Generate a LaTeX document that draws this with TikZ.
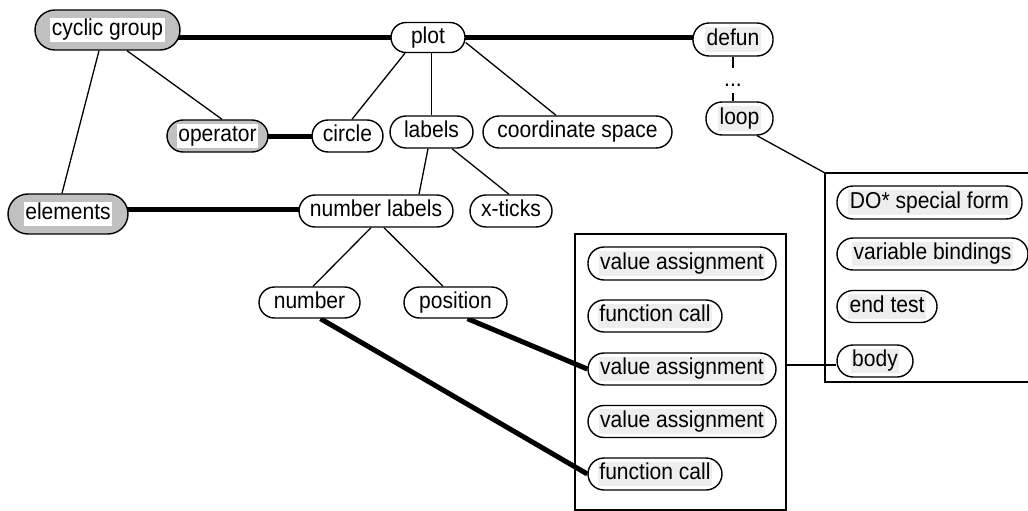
\documentclass[tikz,border=0pt]{standalone}
\usepackage{fontspec}
\setmainfont{Liberation Sans}[FakeStretch=0.915]
\usetikzlibrary{backgrounds}
\definecolor{pillgray}{RGB}{192,192,192}
\definecolor{hlgray}{RGB}{238,238,238}
\newcommand\mystrut{\rule[-4.8pt]{0pt}{21.3pt}}
\newcommand\hlw[1]{{\setlength{\fboxsep}{1.5pt}\colorbox{white}{\mystrut#1}}}
\newcommand\hlg[1]{{\setlength{\fboxsep}{1.5pt}\colorbox{hlgray}{\mystrut#1}}}
\begin{document}
\begin{tikzpicture}[x=1pt,y=-1pt, font=\fontsize{23pt}{27pt}\selectfont,
  pill/.style={draw, line width=1.4pt, fill=white, rounded corners=16pt, inner sep=0pt, minimum height=32pt},
  gpill/.style={pill, fill=pillgray, rounded corners=20pt, minimum height=40pt},
  thinedge/.style={line width=1.3pt},
  boldedge/.style={line width=5pt},
  framebox/.style={draw, line width=1.4pt, inner sep=0pt}]
\useasboundingbox (0,0) rectangle (1028,511);

% main tree
\node[gpill, minimum width=145pt] (cyclic) at (107.5,30) {\hlw{cyclic group}};
\node[pill, minimum width=74pt, minimum height=30pt, rounded corners=15pt] (plot) at (428,37.5) {\mystrut plot};
\node[pill, minimum width=80pt, minimum height=33pt] (defun) at (733,39.5) {\hlg{defun}};
\node[anchor=base, inner sep=0pt, text height=19pt, text depth=6pt] (dots) at (733,87) {...};
\node[pill, minimum width=67pt, minimum height=33pt] (loop) at (739.5,118.5) {\hlg{loop}};
\node[gpill, minimum width=101pt, minimum height=32pt, rounded corners=16pt] (operator) at (217.5,136) {\hlw{operator}};
\node[pill, minimum width=71pt] (circle) at (347.5,136) {\mystrut circle};
\node[pill, minimum width=83pt] (labels) at (431.5,132) {\mystrut labels};
\node[pill, minimum width=189pt] (coord) at (577.5,132) {\mystrut coordinate space};
\node[gpill, minimum width=120pt] (elements) at (68,214) {\hlw{elements}};
\node[pill, minimum width=154pt] (nl) at (376,211) {\mystrut number labels};
\node[pill, minimum width=82pt] (xticks) at (511,211) {\mystrut x-ticks};
\node[pill, minimum width=101pt, minimum height=31pt, rounded corners=15.5pt] (number) at (309.5,302.5) {\mystrut number};
\node[pill, minimum width=103pt, minimum height=31pt, rounded corners=15.5pt] (position) at (455.5,302.5) {\mystrut position};

% middle frame
\node[framebox, minimum width=211pt, minimum height=276pt] (box1) at (680.5,372) {};
\node[pill, minimum width=188pt, minimum height=33pt] (va1) at (682,263.5) {\hlg{value assignment}};
\node[pill, minimum width=134pt] (fc1) at (655,316) {\hlg{function call}};
\node[pill, minimum width=188pt] (va2) at (682,369) {\hlg{value assignment}};
\node[pill, minimum width=188pt] (va3) at (682,421.5) {\hlg{value assignment}};
\node[pill, minimum width=134pt] (fc2) at (655,474) {\hlg{function call}};

% right frame
\coordinate (box2nw) at (825,173);
\draw[line width=1.4pt] (1028,173) -- (box2nw) -- (825,382) -- (1028,382);
\node[pill, minimum width=185pt, minimum height=33pt] (dostar) at (929.5,202.5) {\hlg{DO* special form}};
\node[pill, minimum width=191pt] (vb) at (932.5,254) {\hlg{variable bindings}};
\node[pill, minimum width=100pt] (endtest) at (887,306.5) {\hlg{end test}};
\node[pill, minimum width=76pt] (body) at (875,361) {\hlg{body}};

\begin{pgfonlayer}{background}
  \draw[boldedge] (cyclic.center |- plot.center) -- (plot.center);
  \draw[boldedge] (plot.center) -- (plot.center -| defun.center);
  \draw[boldedge] (operator.center) -- (circle.center);
  \coordinate (nlk) at ([yshift=2pt]nl.center);
  \draw[boldedge] (nlk -| elements.center) -- (nlk);
  \draw[boldedge] ([xshift=12pt]position.south) -- (va2.west);
  \draw[boldedge] ([xshift=11pt]number.south) -- (fc2.west);

  \draw[thinedge] ([xshift=19.5pt]cyclic.south) -- ([xshift=4.5pt]operator.north);
  \draw[thinedge] ([xshift=-8.5pt]cyclic.south) -- ([xshift=-6pt]elements.north);
  \draw[thinedge] ([xshift=-23pt]plot.south) -- ([xshift=4.5pt]circle.north);
  \draw[thinedge] (labels.north |- plot.south) -- (labels.north);
  \draw[thinedge] ([yshift=-5pt]plot.east) -- ([xshift=-21.5pt]coord.north);
  \draw[thinedge] ([xshift=-3.5pt]labels.south) -- ([xshift=43pt]nl.north);
  \draw[thinedge] ([xshift=20.5pt]labels.south) -- ([xshift=-2pt]xticks.north);
  \draw[thinedge] ([xshift=-5pt]nl.south) -- ([xshift=3.5pt]number.north);
  \draw[thinedge] ([xshift=8pt]nl.south) -- ([xshift=-12.5pt]position.north);
  \draw[thinedge] (defun.south) -- (dots.north);
  \draw[thinedge] (dots.south) -- (dots.south |- loop.north);
  \draw[thinedge] ([xshift=17.5pt]loop.south) -- (box2nw);
  \coordinate (bw) at ([yshift=-4pt]body.west);
  \draw[thinedge] (bw -| box1.east) -- (bw);
\end{pgfonlayer}
\end{tikzpicture}
\end{document}
